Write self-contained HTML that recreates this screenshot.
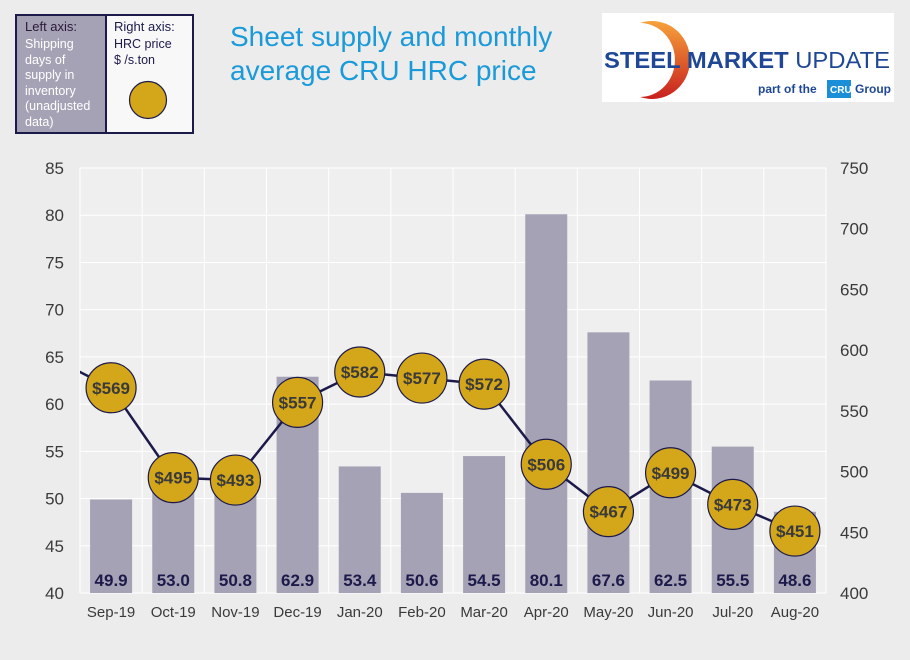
<!DOCTYPE html>
<html><head><meta charset="utf-8"><style>
body{margin:0;background:#ececec;font-family:"Liberation Sans",sans-serif}
#wrap{position:relative;width:910px;height:660px;overflow:hidden;background:#ececec}
</style></head><body>
<div id="wrap">
<svg id="chart" width="910" height="660">
  <g>
    <rect x="16" y="15" width="90" height="118" fill="#a6a2b5" stroke="#1c1a4a" stroke-width="2"/>
    <rect x="106" y="15" width="87" height="118" fill="#f8f8f8" stroke="#1c1a4a" stroke-width="2"/>
    <text font-size="13" fill="#2a1a3a">
      <tspan x="25" y="31">Left axis:</tspan>
      <tspan x="25" y="48" fill="#fff" font-size="12.5">Shipping</tspan>
      <tspan x="25" y="64" fill="#fff" font-size="12.5">days of</tspan>
      <tspan x="25" y="79" fill="#fff" font-size="12.5">supply in</tspan>
      <tspan x="25" y="95" fill="#fff" font-size="12.5">inventory</tspan>
      <tspan x="25" y="110" fill="#fff" font-size="12.5">(unadjusted</tspan>
      <tspan x="25" y="126" fill="#fff" font-size="12.5">data)</tspan>
    </text>
    <text font-size="13" fill="#1c1a4a">
      <tspan x="114" y="31">Right axis:</tspan>
      <tspan x="114" y="48" font-size="12.5">HRC  price</tspan>
      <tspan x="114" y="64" font-size="12.5">$ /s.ton</tspan>
    </text>
    <circle cx="148" cy="100" r="18.5" fill="#d4a61a" stroke="#1c1a4a" stroke-width="1.2"/>
  </g>
  <text font-size="28" fill="#1a9ad9">
    <tspan x="230" y="46">Sheet supply and monthly</tspan>
    <tspan x="230" y="80">average CRU HRC price</tspan>
  </text>
  <g>
    <rect x="602" y="13" width="292" height="89" fill="#fff"/>
    <defs><linearGradient id="arc" x1="0" y1="0" x2="0" y2="1"><stop offset="0" stop-color="#f6a23a"/><stop offset="1" stop-color="#c8201e"/></linearGradient></defs>
    <path d="M640,23 A38,39 0 1,1 640,97 A34,36 0 1,0 640,23 Z" fill="url(#arc)"/>
    <text x="604" y="68" font-size="23" font-weight="bold" fill="#1f4796" textLength="286" lengthAdjust="spacingAndGlyphs">STEEL MARKET <tspan font-weight="normal">UPDATE</tspan></text>
    <text x="758" y="93" font-size="12" font-weight="bold" fill="#1f4796">part of the</text>
    <rect x="827" y="80" width="24" height="18" fill="#1a8fd8"/>
    <text x="830" y="93" font-size="10" font-weight="bold" fill="#fff">CRU</text>
    <text x="855" y="93" font-size="12" font-weight="bold" fill="#1f4796">Group</text>
  </g>
  <g id="plot"></g>
</svg>
</div>
<script>
const categories=["Sep-19","Oct-19","Nov-19","Dec-19","Jan-20","Feb-20","Mar-20","Apr-20","May-20","Jun-20","Jul-20","Aug-20"];
const supplyDays=[49.9,53.0,50.8,62.9,53.4,50.6,54.5,80.1,67.6,62.5,55.5,48.6];
const hrcPrice=[569,495,493,557,582,577,572,506,467,499,473,451];
const prevPrice=[595];
const leftTicks=[40,45,50,55,60,65,70,75,80,85];
const rightTicks=[400,450,500,550,600,650,700,750];

const NS="http://www.w3.org/2000/svg";
const X0=80,X1=826,Y0=593,Y1=168;
const band=(X1-X0)/categories.length;
const xC=i=>X0+band*(i+0.5);
const yL=v=>Y0-(v-40)/(85-40)*(Y0-Y1);
const yR=v=>Y0-(v-400)/(750-400)*(Y0-Y1);
const plot=document.getElementById('plot');
function mk(tag,attrs,parent){const e=document.createElementNS(NS,tag);for(const k in attrs)e.setAttribute(k,attrs[k]);(parent||plot).appendChild(e);return e;}

const bg=mk('rect',{x:X0,y:Y1,width:X1-X0,height:Y0-Y1,fill:'#efefef'});


leftTicks.forEach(t=>{
  const g=mk('line',{x1:X0,x2:X1,y1:yL(t),y2:yL(t),stroke:'#fff','stroke-width':1});
  
  
  const tx=mk('text',{x:64,y:yL(t)+6,'text-anchor':'end','font-size':17,fill:'#3a3a3a'});
  tx.textContent=t;
  
  
});
for(let i=0;i<=categories.length;i++){
  const g=mk('line',{x1:X0+band*i,x2:X0+band*i,y1:Y1,y2:Y0,stroke:'#fff','stroke-width':1});
  
  
}
rightTicks.forEach(t=>{
  const tx=mk('text',{x:840,y:yR(t)+6,'font-size':17,fill:'#3a3a3a'});
  tx.textContent=t;
  
  
});
const bw=42;
supplyDays.forEach((v,i)=>{
  const r=mk('rect',{x:xC(i)-bw/2,y:yL(v),width:bw,height:Y0-yL(v),fill:'#a6a2b5'});
  
  
  const t=mk('text',{x:xC(i),y:586,'text-anchor':'middle','font-size':17,'font-weight':'bold',fill:'#1c1a4a'});
  t.textContent=v.toFixed(1);
  
  
});
categories.forEach((c,i)=>{
  const t=mk('text',{x:xC(i),y:617,'text-anchor':'middle','font-size':15,fill:'#3a3a3a'});
  t.textContent=c;
  
  
});
const cp=mk('clipPath',{id:'pc'});
mk('rect',{x:X0,y:0,width:X1-X0,height:660},cp);
let d='M'+xC(-1)+','+yR(prevPrice[0]);
hrcPrice.forEach((v,i)=>{d+=' L'+xC(i)+','+yR(v);});
const ln=mk('path',{d:d,fill:'none',stroke:'#1c1a4a','stroke-width':2.5,'clip-path':'url(#pc)'});


hrcPrice.forEach((v,i)=>{
  const c=mk('circle',{cx:xC(i),cy:yR(v),r:25,fill:'#d4a61a',stroke:'#1c1a4a','stroke-width':1.2});
  
  
  const t=mk('text',{x:xC(i),y:yR(v)+6,'text-anchor':'middle','font-size':17,'font-weight':'bold',fill:'#3a3a3a'});
  t.textContent='$'+v;
  
  
});
</script>
</body></html>
